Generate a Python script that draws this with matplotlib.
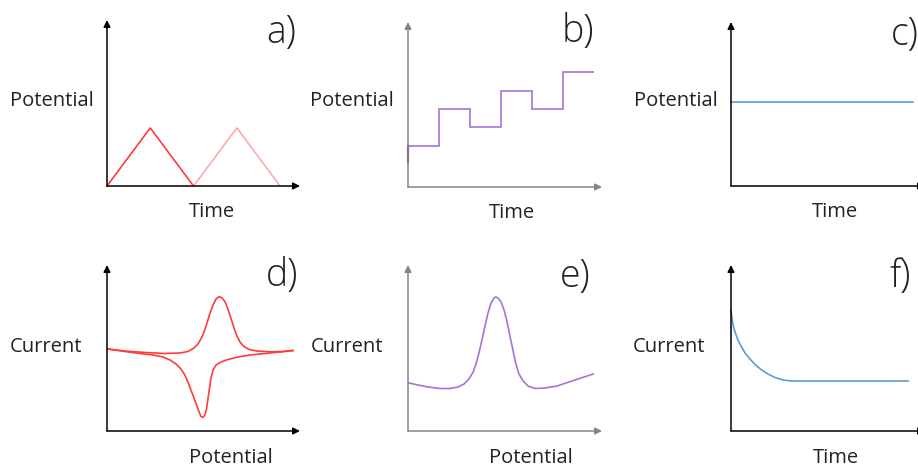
import numpy as np
import matplotlib
matplotlib.use("Agg")
import matplotlib.pyplot as plt

plt.rcParams['font.family'] = ['Open Sans', 'DejaVu Sans']

# a) cyclic voltammetry waveform (triangle)
t_a1 = [0, 1, 2]
E_a1 = [0, 1, 0]
t_a2 = [2, 3, 4]
E_a2 = [0, 1, 0]

# b) differential pulse staircase
t_b_edges = [0, 1, 2, 3, 4, 5, 6]
E_b_levels = [2.25, 4.25, 3.25, 5.25, 4.25, 6.25]
E_b_start = [1.35, 2.25]

# c) chronoamperometry step (constant potential)
t_c = [0, 10]
E_c = [1, 1]

# d) cyclic voltammogram, E in V, I in uA
E_d_fwd = [-0.196, -0.123, -0.037, 0.049, 0.114, 0.148, 0.174, 0.191, 0.204, 0.217,
           0.230, 0.243, 0.256, 0.269, 0.282, 0.295, 0.308, 0.320, 0.333, 0.346,
           0.359, 0.372, 0.389, 0.411, 0.445, 0.501, 0.557, 0.600]
I_d_fwd = [0.0, -0.2, -0.35, -0.45, -0.4, -0.25, 0.1, 0.5, 1.0, 1.7,
           2.6, 3.6, 4.4, 5.0, 5.25, 5.1, 4.7, 4.0, 3.1, 2.1,
           1.3, 0.7, 0.25, -0.05, -0.2, -0.28, -0.25, -0.15]
E_d_rev = [0.600, 0.544, 0.480, 0.415, 0.363, 0.320, 0.290, 0.269, 0.256, 0.247,
           0.241, 0.234, 0.228, 0.221, 0.213, 0.204, 0.196, 0.187, 0.174, 0.161,
           0.148, 0.135, 0.118, 0.097, 0.071, 0.041, -0.002, -0.058, -0.123, -0.196]
I_d_rev = [-0.15, -0.3, -0.45, -0.6, -0.8, -1.05, -1.3, -1.6, -2.1, -2.9,
           -3.9, -5.0, -6.0, -6.6, -6.85, -6.75, -6.3, -5.7, -4.9, -4.1,
           -3.3, -2.6, -2.0, -1.5, -1.1, -0.8, -0.6, -0.45, -0.25, 0.0]

# e) differential pulse voltammogram
E_e = [-0.196, -0.157, -0.114, -0.062, -0.019, 0.015, 0.041, 0.062, 0.080, 0.092,
       0.105, 0.118, 0.131, 0.144, 0.157, 0.170, 0.178, 0.187, 0.200, 0.213,
       0.226, 0.239, 0.252, 0.264, 0.277, 0.295, 0.316, 0.346, 0.389, 0.441,
       0.492, 0.544, 0.596]
I_e = [4.8, 4.6, 4.4, 4.25, 4.25, 4.4, 4.7, 5.2, 5.9, 6.7,
       7.8, 9.1, 10.5, 11.8, 12.8, 13.3, 13.4, 13.3, 12.9, 12.1,
       10.9, 9.4, 8.0, 6.7, 5.7, 5.0, 4.5, 4.25, 4.3, 4.5,
       4.9, 5.3, 5.7]

# f) chronoamperogram
t_f = [0, 0.055, 0.11, 0.22, 0.38, 0.55, 0.77, 1.04, 1.32, 1.65,
       2.03, 2.42, 2.86, 3.35, 4.23, 9.73]
I_f = [12.1, 11.3, 10.6, 9.9, 9.1, 8.5, 7.8, 7.2, 6.65, 6.15,
       5.7, 5.35, 5.1, 5.0, 5.0, 5.0]

W, H = 918, 467
fig = plt.figure(figsize=(W / 100, H / 100), dpi=100)


def make_axes(left, right, bottom, top, xlim, ylim, axcol):
    # box given in pixels from top-left corner
    ax = fig.add_axes([left / W, 1 - bottom / H, (right - left) / W, (bottom - top) / H])
    ax.set_xlim(*xlim)
    ax.set_ylim(*ylim)
    ax.axis('off')
    for end in [(1, 0), (0, 1)]:
        ax.annotate('', xy=end, xytext=(0, 0), xycoords='axes fraction',
                    arrowprops=dict(arrowstyle='-|>', color=axcol, lw=1.1,
                                    mutation_scale=10, shrinkA=0, shrinkB=0))
    return ax


def label(x, y, s, size=14.5, **kw):
    fig.text(x / W, 1 - y / H, s, ha='center', va='center', fontsize=size,
             color='#222222', **kw)


red = '#ff3b3b'
pink = '#ffaaaa'
purple = '#a474d6'
blue = '#5b9bd5'
grey = '#858585'
lw = 1.2

ax = make_axes(107, 300, 186, 20, (0, 4.46), (0, 2.86), 'black')
ax.plot(t_a1, E_a1, color=red, lw=lw, clip_on=False)
ax.plot(t_a2, E_a2, color=pink, lw=lw, clip_on=False)

ax = make_axes(408, 602, 187, 22, (0, 6.26), (0, 9.0), grey)
ax.stairs(E_b_levels, t_b_edges, baseline=None, color=purple, lw=lw)
ax.plot([0, 0], E_b_start, color='#7b4fa6', lw=1.6, clip_on=False)

ax = make_axes(731, 925, 186, 22, (0, 10.66), (0, 1.95), 'black')
ax.plot(t_c, E_c, color=blue, lw=lw, clip_on=False)

ax = make_axes(107, 300, 431, 265, (-0.2, 0.630), (-8.2, 8.4), 'black')
ax.plot(E_d_fwd, I_d_fwd, color=red, lw=lw, clip_on=False)
ax.plot(E_d_rev, I_d_rev, color=red, lw=lw, clip_on=False)

ax = make_axes(408, 602, 431, 265, (-0.2, 0.634), (0, 16.6), grey)
ax.plot(E_e, I_e, color=purple, lw=lw, clip_on=False)

ax = make_axes(731, 925, 431, 265, (0, 10.66), (0, 16.6), 'black')
ax.plot(t_f, I_f, color=blue, lw=lw, clip_on=False)

# axis captions
label(52, 101, 'Potential')
label(212, 212, 'Time')
label(352, 101, 'Potential')
label(512, 213, 'Time')
label(676, 101, 'Potential')
label(835, 212, 'Time')
label(46, 347, 'Current')
label(231, 458, 'Potential')
label(347, 347, 'Current')
label(531, 458, 'Potential')
label(669, 347, 'Current')
label(836, 458, 'Time')

# panel letters
for x, y, s in [(281, 33, 'a)'), (578, 32, 'b)'), (905, 35, 'c)'),
                (282, 276, 'd)'), (575, 277, 'e)'), (900, 277, 'f)')]:
    label(x, y, s, size=27, fontweight='light')

fig.savefig('out.png', dpi=100, facecolor='white')
